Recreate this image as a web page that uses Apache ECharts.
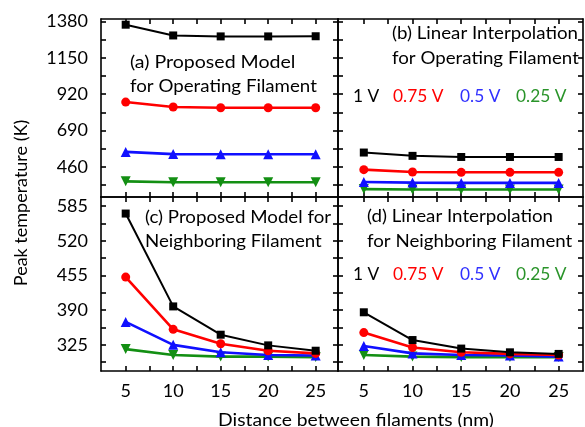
<!DOCTYPE html>
<html>
<head>
<meta charset="utf-8">
<script src="https://cdn.jsdelivr.net/npm/echarts@6/dist/echarts.min.js"></script>
<style>
    html, body { margin: 0; padding: 0; background: #fff; }
    #chart { width: 585px; height: 427px; }
</style>
</head>
<body>
<div id="chart"></div>
<script>
// 横轴：灯丝间距 (nm)
var distances = [5, 10, 15, 20, 25];
var voltageNames = ['1 V', '0.75 V', '0.5 V', '0.25 V'];

// (a) Proposed Model for Operating Filament
var aV100 = [1359, 1291, 1285, 1285, 1286];
var aV075 = [870, 839, 834, 834, 834];
var aV050 = [555, 541, 540, 540, 540];
var aV025 = [369, 363, 363, 363, 363];

// (b) Linear Interpolation for Operating Filament
var bV100 = [551, 530, 523, 523, 523];
var bV075 = [443, 428, 426, 426, 426];
var bV050 = [365, 361, 359, 359, 359];
var bV025 = [320, 317, 317, 317, 317];

// (c) Proposed Model for Neighboring Filament
var cV100 = [571, 397, 344, 324, 314];
var cV075 = [452, 354, 327, 314, 309];
var cV050 = [368, 325, 311, 306, 305];
var cV025 = [317, 306, 303, 303, 302];

// (d) Linear Interpolation for Neighboring Filament
var dV100 = [386, 334, 318, 311, 308];
var dV075 = [348, 320, 311, 308, 306];
var dV050 = [323, 309, 306, 305, 303];
var dV025 = [306, 303, 302, 302, 302];

// 刻度
var xLabelTicks = [5, 10, 15, 20, 25];
var xMinorTicks = [5, 7.5, 10, 12.5, 15, 17.5, 20, 22.5, 25];
var topLabelTicks = [460, 690, 920, 1150, 1380];
var topMinorTicks = [345, 460, 575, 690, 805, 920, 1035, 1150, 1265, 1380];
var botLabelTicks = [325, 390, 455, 520, 585];
var botMinorTicks = [292.5, 325, 357.5, 390, 422.5, 455, 487.5, 520, 552.5, 585];

var FONT = 'Lato, "Open Sans", sans-serif';
var colors = ['#000000', '#ff0000', '#1010ff', '#138f13'];
var textColors = ['#000000', '#ff0000', '#3030ff', '#2a942a'];
var symbols = ['rect', 'circle', 'triangle', 'triangle'];
var symbolSizes = [8, 9, 10, 10];
var symbolRotates = [0, 0, 0, 180];

var grids = [
    {left: 101, top: 19, width: 237, height: 178},
    {left: 338, top: 19, width: 245, height: 178},
    {left: 101, top: 197, width: 237, height: 174},
    {left: 338, top: 197, width: 245, height: 174}
];
var xRanges = [[2.4, 27.35], [2.35, 27.5], [2.4, 27.35], [2.35, 27.5]];
var yRanges = [[270, 1395], [270, 1395], [276, 602], [276, 602]];

var panelData = [
    [aV100, aV075, aV050, aV025],
    [bV100, bV075, bV050, bV025],
    [cV100, cV075, cV050, cV025],
    [dV100, dV075, dV050, dV025]
];

var lineStyleAxis = {color: '#000', width: 1.6};

var xAxes = [];
var yAxes = [];
var series = [];

for (var g = 0; g < 4; g++) {
    var isBottom = g >= 2;
    var isLeft = g % 2 == 0;
    var yMinor = isBottom ? botMinorTicks : topMinorTicks;
    var yLabels = isBottom ? botLabelTicks : topLabelTicks;

    // 下边框 + 上边框
    for (var k = 0; k < 2; k++) {
        xAxes.push({
            type: 'value', gridIndex: g,
            position: k == 0 ? 'bottom' : 'top',
            min: xRanges[g][0], max: xRanges[g][1],
            axisLine: {show: true, onZero: false, lineStyle: lineStyleAxis},
            axisTick: {show: true, inside: true, length: 5, customValues: xMinorTicks, lineStyle: lineStyleAxis},
            axisLabel: {
                show: k == 0 && isBottom, customValues: xLabelTicks, margin: 11,
                color: '#000', fontSize: 18, fontFamily: FONT,
                formatter: function (v) { return String(v); }
            },
            splitLine: {show: false}
        });
    }
    // 左边框 + 右边框
    for (var k = 0; k < 2; k++) {
        yAxes.push({
            type: 'value', gridIndex: g,
            position: k == 0 ? 'left' : 'right',
            min: yRanges[g][0], max: yRanges[g][1],
            axisLine: {show: true, onZero: false, lineStyle: lineStyleAxis},
            axisTick: {show: true, inside: true, length: 5, customValues: yMinor, lineStyle: lineStyleAxis},
            axisLabel: {
                show: k == 0 && isLeft, customValues: yLabels, margin: 13,
                color: '#000', fontSize: 18, fontFamily: FONT,
                formatter: function (v) { return String(v); }
            },
            splitLine: {show: false}
        });
    }

    // 画顺序：绿、蓝、红、黑（黑在最上）
    for (var s = 3; s >= 0; s--) {
        var vals = panelData[g][s];
        var pts = [];
        for (var i = 0; i < distances.length; i++)
            pts.push([distances[i], vals[i]]);
        series.push({
            name: voltageNames[s],
            type: 'line',
            xAxisIndex: g * 2,
            yAxisIndex: g * 2,
            data: pts,
            symbol: symbols[s],
            symbolSize: symbolSizes[s],
            symbolRotate: symbolRotates[s],
            lineStyle: {color: colors[s], width: s == 0 ? 2 : 2.6},
            itemStyle: {color: colors[s], borderWidth: 0},
            z: 10 - s
        });
    }
}

// 文字标注
var graphics = [];
var addText = function (txt, x, y, color, sx) {
    graphics.push({
        type: 'text', x: x, y: y, scaleX: sx || 1.1, silent: true,
        style: {text: txt, fill: color || '#000', font: '17px ' + FONT, align: 'left', verticalAlign: 'middle'}
    });
};

addText('(a) Proposed Model', 130, 63, '#000', 1.15);
addText('for Operating Filament', 130, 87);
addText('(b) Linear Interpolation', 392, 34);
addText('for Operating Filament', 392, 59);
addText('(c) Proposed Model for', 145, 218);
addText('Neighboring Filament', 145, 242);
addText('(d) Linear Interpolation', 367, 217);
addText('for Neighboring Filament', 367, 242);

var legendX = [353, 393, 460, 516];
for (var j = 0; j < 4; j++) {
    addText(voltageNames[j], legendX[j], 97, textColors[j], 1.02);
    addText(voltageNames[j], legendX[j], 275, textColors[j], 1.02);
}

graphics.push({
    type: 'text', x: 356, y: 420, scaleX: 1.07, silent: true,
    style: {text: 'Distance between filaments (nm)', fill: '#000', font: '18px ' + FONT, align: 'center', verticalAlign: 'middle'}
});
graphics.push({
    type: 'text', x: 21, y: 203, rotation: Math.PI / 2, silent: true,
    style: {text: 'Peak temperature (K)', fill: '#000', font: '18px ' + FONT, align: 'center', verticalAlign: 'middle'}
});

var myChart = echarts.init(document.getElementById('chart'));
myChart.setOption({
    animation: false,
    backgroundColor: '#fff',
    grid: grids,
    xAxis: xAxes,
    yAxis: yAxes,
    series: series,
    graphic: graphics
});
</script>
</body>
</html>
